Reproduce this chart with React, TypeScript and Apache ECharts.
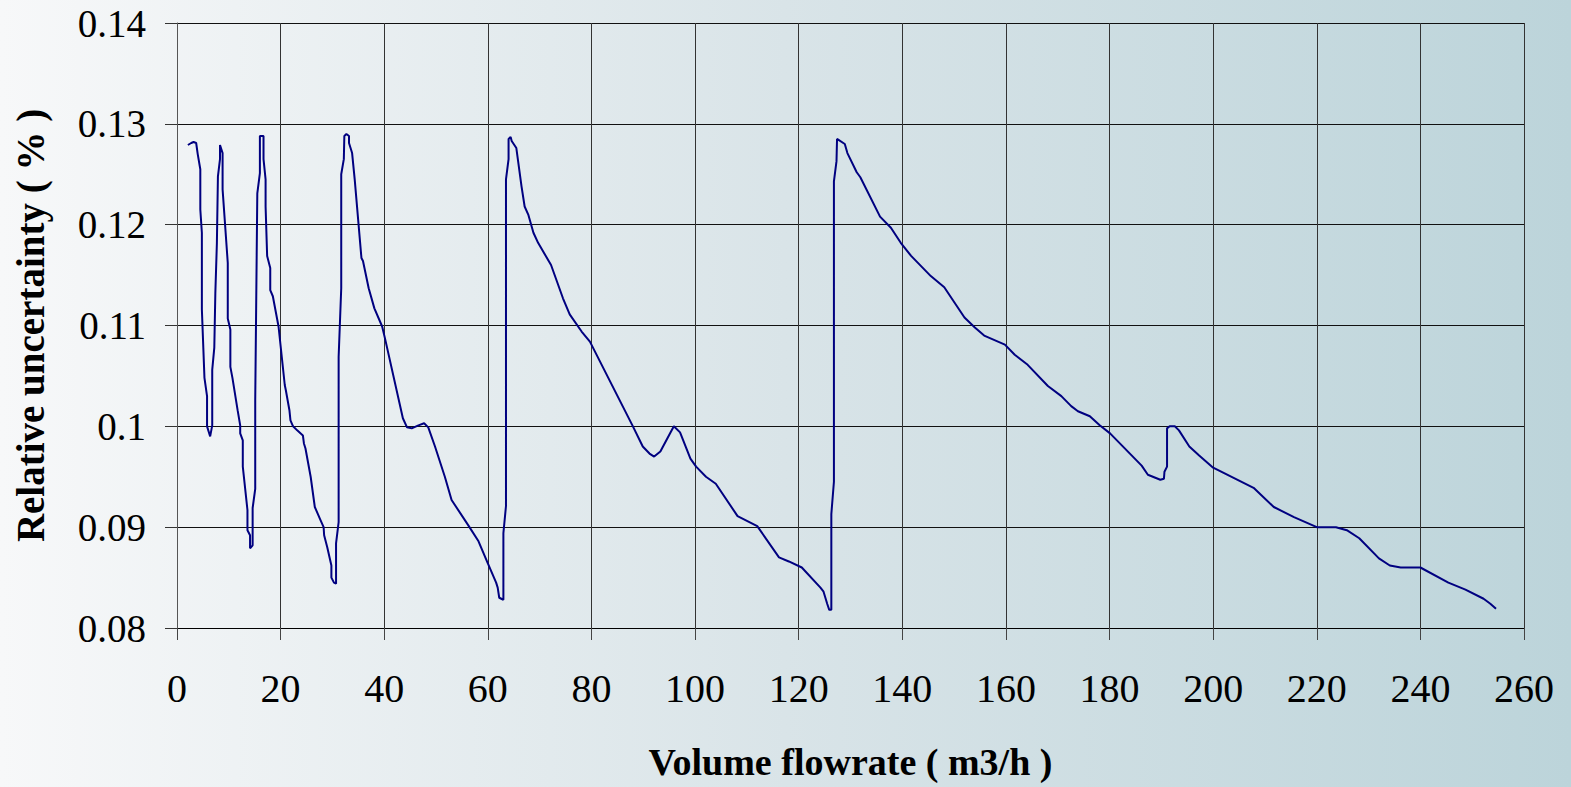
import React, { useEffect, useRef } from "react";
import * as echarts from "echarts";

const xTitle = "Volume flowrate ( m3/h )";
const yTitle = "Relative uncertainty ( % )";

const flowX: number[] = [
  2.1, 2.75, 3.2, 3.7, 4.0, 4.5, 4.5, 4.8, 4.8, 5.3, 5.8, 5.8, 6.4, 6.8, 6.8, 7.2, 7.4, 7.7, 7.9, 8.3,
  8.3, 8.8, 8.8, 9.8, 9.8, 10.3, 10.3, 10.7, 11.7, 12.2, 12.2, 12.7, 12.7, 13.6, 13.6, 14.1, 14.1, 14.6, 14.6, 15.1,
  15.1, 15.5, 16.0, 16.0, 16.7, 16.7, 17.1, 17.1, 17.4, 18.0, 18.0, 18.5, 19.6, 20.8, 21.0, 21.7, 21.9, 22.4, 23.2, 24.3,
  24.5, 24.8, 25.8, 26.6, 27.7, 28.3, 28.4, 29.0, 29.8, 29.8, 30.3, 30.7, 30.7, 31.2, 31.2, 31.7, 31.7, 32.2, 32.3, 32.7,
  33.2, 33.2, 33.8, 34.3, 35.6, 35.9, 37.0, 38.1, 39.6, 40.2, 43.6, 44.4, 45.3, 46.6, 47.7, 48.5, 49.8, 51.7, 53.0, 56.2,
  58.2, 60.0, 61.6, 61.9, 62.2, 63.0, 63.0, 63.5, 63.5, 64.0, 64.0, 64.4, 64.6, 65.5, 66.5, 67.1, 67.8, 68.8, 69.7, 72.2,
  74.5, 75.8, 78.1, 79.7, 88.0, 89.9, 91.2, 92.1, 93.3, 95.9, 97.1, 99.1, 100.2, 102.1, 104.0, 108.2, 112.0, 116.2, 118.1, 120.6,
  124.2, 124.8, 125.5, 125.9, 126.3, 126.3, 126.8, 126.8, 127.3, 127.4, 128.9, 129.4, 131.2, 131.9, 135.7, 137.8, 139.7, 141.7, 145.5, 148.1,
  152.0, 154.0, 155.8, 159.8, 161.7, 164.2, 168.1, 170.7, 172.6, 173.9, 176.2, 178.1, 180.1, 186.2, 187.4, 189.8, 190.5, 190.6, 191.1, 191.1,
  191.6, 192.6, 193.4, 195.4, 197.3, 200.0, 207.8, 211.7, 215.6, 220.0, 223.7, 225.8, 228.2, 232.0, 234.1, 236.2, 240.0, 245.4, 248.7, 252.2,
  253.5, 254.6,
];

const uncertaintyY: number[] = [
  0.1279, 0.1281, 0.1282, 0.1281, 0.1270, 0.1255, 0.1215, 0.1192, 0.1116, 0.1048, 0.1030, 0.1000, 0.0990, 0.1001, 0.1056, 0.1078, 0.1132, 0.1182, 0.1248, 0.1265,
  0.1279, 0.1271, 0.1235, 0.1162, 0.1107, 0.1096, 0.1059, 0.1048, 0.1016, 0.1001, 0.0993, 0.0986, 0.0960, 0.0917, 0.0897, 0.0892, 0.0879, 0.0882, 0.0919, 0.0938,
  0.1026, 0.1231, 0.1251, 0.1288, 0.1288, 0.1265, 0.1245, 0.1218, 0.1169, 0.1157, 0.1135, 0.1129, 0.1099, 0.1041, 0.1036, 0.1016, 0.1006, 0.1000, 0.0996, 0.0991,
  0.0983, 0.0978, 0.0950, 0.0920, 0.0907, 0.0900, 0.0892, 0.0880, 0.0862, 0.0850, 0.0845, 0.0844, 0.0884, 0.0905, 0.1069, 0.1137, 0.1250, 0.1265, 0.1288, 0.1290,
  0.1288, 0.1281, 0.1271, 0.1245, 0.1167, 0.1164, 0.1137, 0.1117, 0.1099, 0.1086, 0.1008, 0.0999, 0.0998, 0.1001, 0.1003, 0.0999, 0.0980, 0.0950, 0.0927, 0.0902,
  0.0886, 0.0864, 0.0845, 0.0840, 0.0830, 0.0828, 0.0894, 0.0921, 0.1245, 0.1265, 0.1285, 0.1287, 0.1283, 0.1276, 0.1238, 0.1218, 0.1210, 0.1192, 0.1182, 0.1160,
  0.1127, 0.1111, 0.1094, 0.1084, 0.1000, 0.0980, 0.0973, 0.0970, 0.0975, 0.1000, 0.0994, 0.0968, 0.0960, 0.0950, 0.0943, 0.0911, 0.0901, 0.0870, 0.0866, 0.0860,
  0.0840, 0.0836, 0.0824, 0.0818, 0.0818, 0.0913, 0.0945, 0.1243, 0.1263, 0.1285, 0.1280, 0.1271, 0.1252, 0.1247, 0.1208, 0.1197, 0.1182, 0.1169, 0.1149, 0.1138,
  0.1108, 0.1098, 0.1090, 0.1081, 0.1071, 0.1061, 0.1040, 0.1030, 0.1020, 0.1015, 0.1010, 0.1001, 0.0993, 0.0961, 0.0952, 0.0947, 0.0948, 0.0955, 0.0960, 0.0998,
  0.1000, 0.1000, 0.0996, 0.0980, 0.0971, 0.0959, 0.0939, 0.0920, 0.0910, 0.0900, 0.0900, 0.0897, 0.0889, 0.0869, 0.0862, 0.0860, 0.0860, 0.0845, 0.0838, 0.0829,
  0.0824, 0.0819,
];

const xMin = 0;
const xMax = 260;
const xStep = 20;
const yMin = 0.08;
const yMax = 0.14;
const yStep = 0.01;

export default function App() {
  const ref = useRef<HTMLDivElement>(null);

  useEffect(() => {
    document.body.style.margin = "0";
    document.body.style.overflow = "hidden";
    if (!ref.current) return;
    const chart = echarts.init(ref.current, null, { renderer: "svg" });
    const n = Math.min(flowX.length, uncertaintyY.length);
    const data: [number, number][] = [];
    for (let i = 0; i < n; i++) data.push([flowX[i], uncertaintyY[i]]);

    const font = "'Liberation Serif', 'Times New Roman', serif";

    chart.setOption({
      animation: false,
      backgroundColor: {
        type: "linear",
        x: 0,
        y: 0,
        x2: 1,
        y2: 0,
        colorStops: [
          { offset: 0, color: "#f7f8f9" },
          { offset: 0.5, color: "#d9e4e8" },
          { offset: 1, color: "#bcd4da" },
        ],
      },
      grid: { left: 177, right: 47, top: 23, bottom: 159, containLabel: false },
      xAxis: {
        type: "value",
        min: xMin,
        max: xMax,
        interval: xStep,
        name: xTitle,
        nameLocation: "middle",
        nameGap: 115,
        nameTextStyle: { fontFamily: font, fontWeight: "bold", fontSize: 38, color: "#000" },
        axisLine: { show: true, lineStyle: { color: "#000", width: 1 } },
        axisTick: { show: true, length: 12, lineStyle: { color: "#444", width: 1 } },
        axisLabel: { fontFamily: font, fontSize: 40, color: "#000", margin: 40 },
        splitLine: { show: true, lineStyle: { color: "#333", width: 1 } },
      },
      yAxis: {
        type: "value",
        min: yMin,
        max: yMax,
        interval: yStep,
        name: yTitle,
        nameLocation: "middle",
        nameGap: 127,
        nameTextStyle: { fontFamily: font, fontWeight: "bold", fontSize: 39, color: "#000" },
        axisLine: { show: true, lineStyle: { color: "#555", width: 1 } },
        axisTick: { show: true, length: 12, lineStyle: { color: "#333", width: 1 } },
        axisLabel: { fontFamily: font, fontSize: 39, color: "#000", margin: 31 },
        splitLine: { show: true, lineStyle: { color: "#111", width: 1 } },
      },
      series: [
        {
          type: "line",
          data,
          showSymbol: false,
          symbol: "none",
          lineStyle: { color: "#000080", width: 2 },
        },
      ],
    });
    return () => chart.dispose();
  }, []);

  return (
    <div
      ref={ref}
      style={{ position: "absolute", left: 0, top: 0, width: 1571, height: 787 }}
    />
  );
}
